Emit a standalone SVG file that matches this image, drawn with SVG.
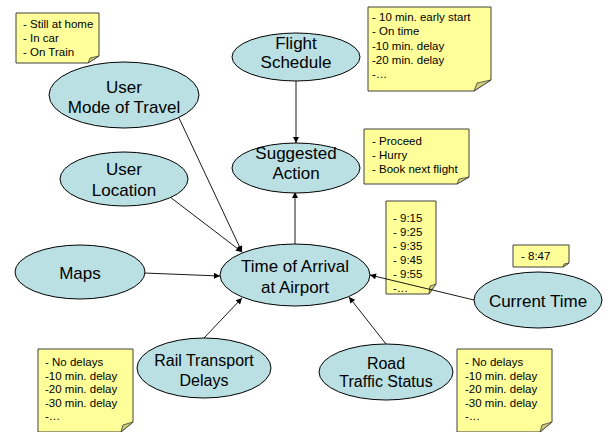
<svg xmlns="http://www.w3.org/2000/svg" width="605" height="432" viewBox="0 0 605 432">
<style>
.node{fill:#BBE0E3;stroke:#000;stroke-width:1}
.nt{font-family:"Liberation Sans",Arial,sans-serif;font-size:17px;fill:#000;text-anchor:middle}
.nt16{font-size:16px}
.note{fill:#FFFF99;stroke:#404040;stroke-width:1}
.fold{fill:#CCCC7A;stroke:#404040;stroke-width:0.8}
.tt{font-family:"Liberation Sans",Arial,sans-serif;font-size:11.5px;fill:#000}
.edge{stroke:#000;stroke-width:0.9;fill:none;marker-end:url(#arr)}
</style>
<defs>
<marker id="arr" viewBox="0 0 10 10" refX="10" refY="5" markerWidth="7" markerHeight="6" markerUnits="userSpaceOnUse" orient="auto"><path d="M0,0 L10,5 L0,10 z" fill="#000"/></marker>
</defs>
<rect width="605" height="432" fill="#fff"/>

<g id="note-mode">
<path class="note" d="M16,13 H99 V56 L88,63 H16 Z"/>
<path class="fold" d="M88,63 L90,58 L99,56 Z"/>
<text class="tt"><tspan x="23" y="28">- Still at home</tspan><tspan x="23" y="42">- In car</tspan><tspan x="23" y="56">- On Train</tspan></text>
</g>
<g id="note-flight">
<path class="note" d="M368,7 H491 V80 L474,91 H368 Z"/>
<path class="fold" d="M474,91 L477,83 L491,80 Z"/>
<text class="tt"><tspan x="372" y="21">- 10 min. early start</tspan><tspan x="372" y="35.3">- On time</tspan><tspan x="372" y="49.6">-10 min. delay</tspan><tspan x="372" y="63.9">-20 min. delay</tspan><tspan x="372" y="78.2">-…</tspan></text>
</g>
<g id="note-action">
<path class="note" d="M364,129 H469 V177 L457,184 H364 Z"/>
<path class="fold" d="M457,184 L459,179 L469,177 Z"/>
<text class="tt"><tspan x="372" y="145">- Proceed</tspan><tspan x="372" y="159">- Hurry</tspan><tspan x="372" y="173">- Book next flight</tspan></text>
</g>
<g id="note-arrival">
<path class="note" d="M386,201 H436 V284 L429,294 H386 Z"/>
<path class="fold" d="M429,294 L430,286 L436,284 Z"/>
<text class="tt"><tspan x="393" y="222">- 9:15</tspan><tspan x="393" y="235.9">- 9:25</tspan><tspan x="393" y="249.8">- 9:35</tspan><tspan x="393" y="263.7">- 9:45</tspan><tspan x="393" y="277.6">- 9:55</tspan><tspan x="393" y="291.5">-…</tspan></text>
</g>
<g id="note-time">
<path class="note" d="M513,245 H569 V263 L563,267 H513 Z"/>
<path class="fold" d="M563,267 L564,264 L569,263 Z"/>
<text class="tt"><tspan x="521" y="260">- 8:47</tspan></text>
</g>
<g id="note-rail">
<path class="note" d="M38,349 H133 V422 L121,432 H38 Z"/>
<path class="fold" d="M121,432 L123,425 L133,422 Z"/>
<text class="tt"><tspan x="45" y="366">- No delays</tspan><tspan x="45" y="379.6">-10 min. delay</tspan><tspan x="45" y="393.2">-20 min. delay</tspan><tspan x="45" y="406.8">-30 min. delay</tspan><tspan x="45" y="420.4">-…</tspan></text>
</g>
<g id="note-road">
<path class="note" d="M457,349 H552 V422 L540,432 H457 Z"/>
<path class="fold" d="M540,432 L542,425 L552,422 Z"/>
<text class="tt"><tspan x="465" y="366">- No delays</tspan><tspan x="465" y="379.6">-10 min. delay</tspan><tspan x="465" y="393.2">-20 min. delay</tspan><tspan x="465" y="406.8">-30 min. delay</tspan><tspan x="465" y="420.4">-…</tspan></text>
</g>

<g id="connectors">
<path class="edge" d="M179,118 L242,252"/>
<path class="edge" d="M170,197 L242,252"/>
<path class="edge" d="M144,273 L220,276"/>
<path class="edge" d="M296,81 L296,143"/>
<path class="edge" d="M295,245 L295,192"/>
<path class="edge" d="M474,300 L370,275"/>
<path class="edge" d="M204,338 L242,298"/>
<path class="edge" d="M386,344 L349,297"/>
</g>

<g id="mode">
<ellipse class="node" cx="124" cy="95" rx="75" ry="33"/>
<text class="nt"><tspan x="124" y="93">User</tspan><tspan x="124" y="113">Mode of Travel</tspan></text>
</g>
<g id="flight">
<ellipse class="node" cx="296" cy="57" rx="64" ry="24"/>
<text class="nt"><tspan x="296" y="48.5">Flight</tspan><tspan x="296" y="68">Schedule</tspan></text>
</g>
<g id="action">
<ellipse class="node" cx="296" cy="168" rx="64" ry="25"/>
<text class="nt"><tspan x="296" y="159">Suggested</tspan><tspan x="296" y="179">Action</tspan></text>
</g>
<g id="location">
<ellipse class="node" cx="124" cy="179" rx="64" ry="27"/>
<text class="nt"><tspan x="124" y="175">User</tspan><tspan x="124" y="196">Location</tspan></text>
</g>
<g id="maps">
<ellipse class="node" cx="80" cy="272" rx="65" ry="27"/>
<text class="nt" x="80" y="279">Maps</text>
</g>
<g id="arrival">
<ellipse class="node" cx="295" cy="275" rx="75" ry="31"/>
<text class="nt"><tspan x="295" y="272">Time of Arrival</tspan><tspan x="295" y="293">at Airport</tspan></text>
</g>
<g id="current">
<ellipse class="node" cx="538" cy="300" rx="64" ry="28"/>
<text class="nt" x="538" y="307">Current Time</text>
</g>
<g id="rail">
<ellipse class="node" cx="204" cy="368" rx="67" ry="30"/>
<text class="nt nt16"><tspan x="204" y="366">Rail Transport</tspan><tspan x="204" y="386">Delays</tspan></text>
</g>
<g id="road">
<ellipse class="node" cx="386" cy="372" rx="67" ry="28"/>
<text class="nt nt16"><tspan x="386" y="369">Road</tspan><tspan x="386" y="387">Traffic Status</tspan></text>
</g>
</svg>
